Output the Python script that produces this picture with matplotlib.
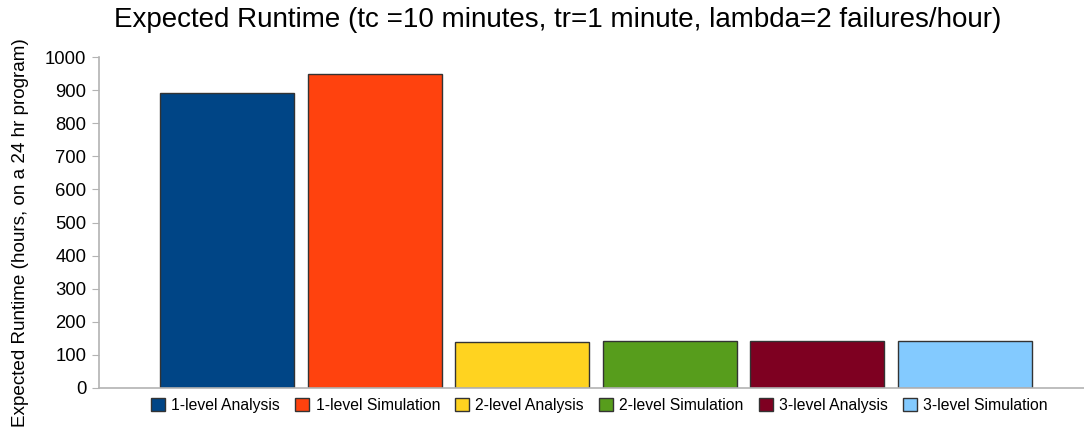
import numpy as np
import matplotlib
matplotlib.use('Agg')
import matplotlib.pyplot as plt

plt.rcParams['font.family'] = ['Liberation Sans', 'DejaVu Sans']

series = ['1-level Analysis', '1-level Simulation', '2-level Analysis',
          '2-level Simulation', '3-level Analysis', '3-level Simulation']
runtime = [891, 949, 139, 142, 142, 142]
colors = ['#004586', '#ff420e', '#ffd320', '#579d1c', '#7e0021', '#83caff']

fig = plt.figure(figsize=(10.84, 4.30), dpi=100)
ax = fig.add_axes([0.0913, 0.0977, 0.9087, 0.7697])

x = np.arange(len(series))
for i in range(len(series)):
    ax.bar(x[i], runtime[i], width=0.908, color=colors[i],
           edgecolor='#333333', linewidth=1.0, label=series[i])

ax.set_xlim(-0.867, 5.806)
ax.set_ylim(0, 1000)
ax.set_yticks(np.arange(0, 1001, 100))
ax.set_xticks([])
ax.tick_params(axis='y', labelsize=13.3, length=5, color='#b3b3b3', pad=4)
for s in ['top', 'right']:
    ax.spines[s].set_visible(False)
for s in ['left', 'bottom']:
    ax.spines[s].set_color('#b3b3b3')
    ax.spines[s].set_linewidth(1.2)

ax.set_ylabel('Expected Runtime (hours, on a 24 hr program)', fontsize=13.6)
ax.yaxis.set_label_coords(-0.071, 0.47)
fig.text(0.5145, 0.953, 'Expected Runtime (tc =10 minutes, tr=1 minute, lambda=2 failures/hour)',
         ha='center', va='center', fontsize=20)

fig.legend(loc='center', bbox_to_anchor=(0.553, 0.057), ncol=6, frameon=False,
           fontsize=11.3, handlelength=0.9, handleheight=0.9, handletextpad=0.4,
           columnspacing=0.95)

fig.savefig('out.png', dpi=100)
